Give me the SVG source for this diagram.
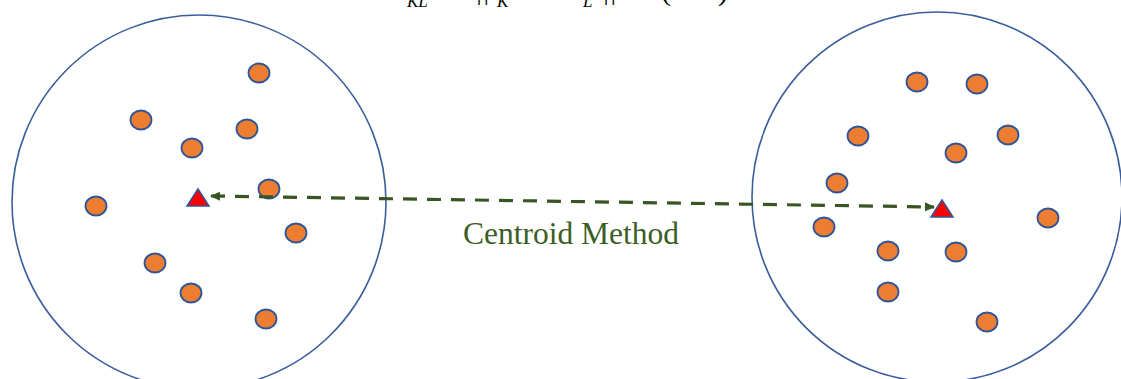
<svg xmlns="http://www.w3.org/2000/svg" width="1121" height="379" viewBox="0 0 1121 379">
<style>
.cl{fill:none;stroke:#3A5D9C;stroke-width:1.6}
.pt{fill:#ED7D31;stroke:#2F5597;stroke-width:1.8}
.cen{fill:#FF0000;stroke:#2F5597;stroke-width:1.5;stroke-linejoin:miter}
.lnk{fill:none;stroke:#375623;stroke-width:3.2;stroke-dasharray:14 10}
.lbl{font-family:"Liberation Serif","Times New Roman",serif;font-size:31.5px;fill:#3B5E25}
.f{font-family:"Liberation Serif","Times New Roman",serif;font-style:italic;font-size:26px;fill:#000}
.sub{font-size:17px}
.par{font-style:normal;font-size:30px}
</style>
<defs>
<marker id="ah" viewBox="0 0 10 10" refX="9" refY="5" markerWidth="10" markerHeight="10" markerUnits="userSpaceOnUse" orient="auto-start-reverse">
<path d="M0,0.5 L10,5 L0,9.5 z" fill="#375623"/>
</marker>
</defs>
<text class="f" y="-3"><tspan x="386">D</tspan><tspan class="sub" x="407" y="7">KL</tspan><tspan x="445" y="-3">=</tspan><tspan x="475" y="0">||</tspan><tspan x="486" y="-3">x̄</tspan><tspan class="sub" x="497" y="7">K</tspan><tspan x="530" y="-3">−</tspan><tspan x="573">x̄</tspan><tspan class="sub" x="583" y="7">L</tspan><tspan x="602" y="0">||</tspan><tspan class="sub" x="616" y="-12">2</tspan><tspan class="par" x="661" y="0">(</tspan><tspan x="672" y="-4">8-3</tspan><tspan class="par" x="718" y="0">)</tspan></text>
<g id="cluster-left">
<circle class="cl" cx="199" cy="202" r="187"/>
<ellipse class="pt" cx="259" cy="73" rx="10.5" ry="9.5"/>
<ellipse class="pt" cx="141" cy="120" rx="10.5" ry="9.5"/>
<ellipse class="pt" cx="247" cy="129" rx="10.5" ry="9.5"/>
<ellipse class="pt" cx="192" cy="148" rx="10.5" ry="9.5"/>
<ellipse class="pt" cx="269" cy="189" rx="10.5" ry="9.5"/>
<ellipse class="pt" cx="96" cy="206" rx="10.5" ry="9.5"/>
<ellipse class="pt" cx="296" cy="233" rx="10.5" ry="9.5"/>
<ellipse class="pt" cx="155" cy="263" rx="10.5" ry="9.5"/>
<ellipse class="pt" cx="191" cy="293" rx="10.5" ry="9.5"/>
<ellipse class="pt" cx="266" cy="319" rx="10.5" ry="9.5"/>
<polygon class="cen" points="198,189 209,206 187,206"/>
</g>
<g id="cluster-right">
<circle class="cl" cx="937" cy="197" r="185"/>
<ellipse class="pt" cx="917" cy="82" rx="10.5" ry="9.5"/>
<ellipse class="pt" cx="977" cy="84" rx="10.5" ry="9.5"/>
<ellipse class="pt" cx="858" cy="136" rx="10.5" ry="9.5"/>
<ellipse class="pt" cx="1008" cy="135" rx="10.5" ry="9.5"/>
<ellipse class="pt" cx="956" cy="153" rx="10.5" ry="9.5"/>
<ellipse class="pt" cx="837" cy="183" rx="10.5" ry="9.5"/>
<ellipse class="pt" cx="1048" cy="218" rx="10.5" ry="9.5"/>
<ellipse class="pt" cx="824" cy="227" rx="10.5" ry="9.5"/>
<ellipse class="pt" cx="888" cy="251" rx="10.5" ry="9.5"/>
<ellipse class="pt" cx="956" cy="252" rx="10.5" ry="9.5"/>
<ellipse class="pt" cx="888" cy="292" rx="10.5" ry="9.5"/>
<ellipse class="pt" cx="987" cy="322" rx="10.5" ry="9.5"/>
<polygon class="cen" points="942,200 953,217 931,217"/>
</g>
<g id="connectors">
<line class="lnk" x1="211" y1="196" x2="934" y2="207" marker-start="url(#ah)" marker-end="url(#ah)"/>
</g>
<text class="lbl" x="463" y="244">Centroid Method</text>
</svg>
